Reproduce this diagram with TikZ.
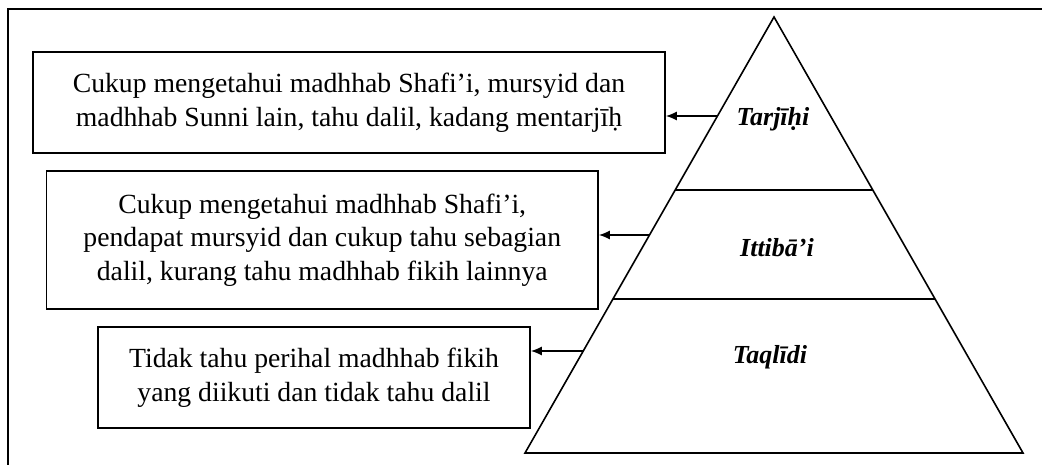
\documentclass[tikz,border=0pt]{standalone}
\usepackage{fontspec}
\setmainfont{Liberation Serif}
\usetikzlibrary{arrows.meta}
\begin{document}
\begin{tikzpicture}[x=1pt,y=-1pt,
  line/.style={line width=1.6pt, line join=miter},
  textbox/.style={draw, line width=1.6pt, inner sep=0pt, align=center,
    font=\fontsize{27.7}{33.5}\selectfont},
  level/.style={inner sep=0pt, font=\fontsize{26}{30}\selectfont\bfseries\itshape},
  arr/.style={line width=1.6pt, -{Latex[length=11pt,width=9pt]}}]
\useasboundingbox (0,0) rectangle (1042,465);
% outer frame (partial)
\draw[line] (1042,9) -- (8,9) -- (8,465);
% pyramid
\coordinate (apex) at (774,17);
\coordinate (bl) at (525,453);
\coordinate (br) at (1023,453);
\coordinate (d1l) at (675.2,190);
\coordinate (d1r) at (872.8,190);
\coordinate (d2l) at (612.9,299);
\coordinate (d2r) at (935.1,299);
\draw[line] (apex) -- (bl) -- (br) -- cycle;
\draw[line] (d1l) -- (d1r);
\draw[line] (d2l) -- (d2r);
% level labels
\node[level, anchor=base] (l1) at (773,126) {Tarjīḥi};
\node[level, anchor=base] (l2) at (777,257) {Ittibā’i};
\node[level, anchor=base] (l3) at (770,363) {Taqlīdi};
% boxes
\node[textbox, minimum width=632pt, minimum height=101pt] (b1) at (349,102.5)
  {Cukup mengetahui madhhab Shafi’i, mursyid dan\\madhhab Sunni lain, tahu dalil, kadang mentarjīḥ};
\node[textbox, minimum width=551.5pt, minimum height=138pt] (b2) at (322.25,240)
  {Cukup mengetahui madhhab Shafi’i,\\pendapat mursyid dan cukup tahu sebagian\\dalil, kurang tahu madhhab fikih lainnya};
\node[textbox, minimum width=432pt, minimum height=101pt] (b3) at (314,377.5)
  {Tidak tahu perihal madhhab fikih\\yang diikuti dan tidak tahu dalil};
% arrow start points on the pyramid edge
\coordinate (e1) at (717.5,116);
\coordinate (e2) at (649.5,235);
\coordinate (e3) at (583.3,351);
\draw[arr] (e1) -- (b1.east |- e1);
\draw[arr] (e2) -- (b2.east |- e2);
\draw[arr] (e3) -- (b3.east |- e3);
\end{tikzpicture}
\end{document}
